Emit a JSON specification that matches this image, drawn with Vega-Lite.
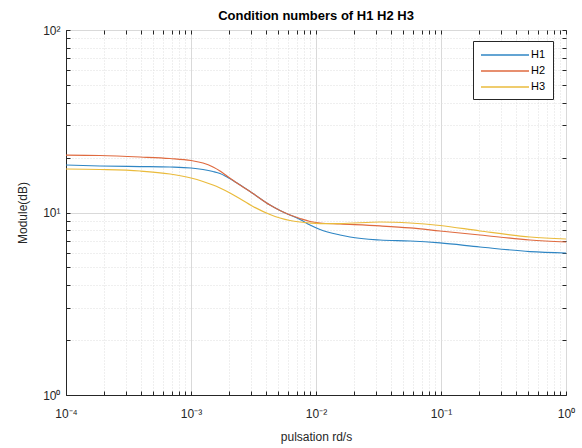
{
  "$schema": "https://vega.github.io/schema/vega-lite/v6.json",
  "autosize": {"type": "none"},
  "width": 500,
  "height": 365,
  "padding": {"left": 66, "top": 30, "right": 16, "bottom": 53},
  "background": "white",
  "title": {"text": "Condition numbers of H1 H2 H3", "font": "Liberation Sans", "fontSize": 13, "fontWeight": "bold", "color": "#000000", "anchor": "middle", "offset": 1},
  "config": {
    "view": {"stroke": "#262626", "strokeWidth": 1},
    "axis": {"labelFont": "Liberation Sans", "titleFont": "Liberation Sans", "labelColor": "#262626", "titleColor": "#262626", "titleFontWeight": "normal", "domainColor": "#262626", "tickColor": "#262626"}
  },
  "data": {"values": [
    {"x": 0.0001, "y": 18.21, "s": "H1"},
    {"x": 0.000187, "y": 17.98, "s": "H1"},
    {"x": 0.000391, "y": 17.86, "s": "H1"},
    {"x": 0.000679, "y": 17.75, "s": "H1"},
    {"x": 0.001, "y": 17.53, "s": "H1"},
    {"x": 0.001247, "y": 17.2, "s": "H1"},
    {"x": 0.0015, "y": 16.77, "s": "H1"},
    {"x": 0.001706, "y": 16.36, "s": "H1"},
    {"x": 0.001941, "y": 15.65, "s": "H1"},
    {"x": 0.002333, "y": 14.51, "s": "H1"},
    {"x": 0.003133, "y": 12.71, "s": "H1"},
    {"x": 0.004285, "y": 10.99, "s": "H1"},
    {"x": 0.005152, "y": 10.25, "s": "H1"},
    {"x": 0.006194, "y": 9.69, "s": "H1"},
    {"x": 0.007447, "y": 9.15, "s": "H1"},
    {"x": 0.008954, "y": 8.54, "s": "H1"},
    {"x": 0.010765, "y": 8.07, "s": "H1"},
    {"x": 0.01556, "y": 7.53, "s": "H1"},
    {"x": 0.0187, "y": 7.34, "s": "H1"},
    {"x": 0.0325, "y": 7.07, "s": "H1"},
    {"x": 0.0565, "y": 6.98, "s": "H1"},
    {"x": 0.0982, "y": 6.81, "s": "H1"},
    {"x": 0.205, "y": 6.47, "s": "H1"},
    {"x": 0.515, "y": 6.11, "s": "H1"},
    {"x": 1.0, "y": 6.0, "s": "H1"},
    {"x": 0.0001, "y": 20.65, "s": "H2"},
    {"x": 0.000187, "y": 20.53, "s": "H2"},
    {"x": 0.000391, "y": 20.14, "s": "H2"},
    {"x": 0.000679, "y": 19.76, "s": "H2"},
    {"x": 0.001, "y": 19.27, "s": "H2"},
    {"x": 0.001247, "y": 18.67, "s": "H2"},
    {"x": 0.0015, "y": 17.75, "s": "H2"},
    {"x": 0.001706, "y": 16.88, "s": "H2"},
    {"x": 0.001941, "y": 15.85, "s": "H2"},
    {"x": 0.002333, "y": 14.51, "s": "H2"},
    {"x": 0.003133, "y": 12.71, "s": "H2"},
    {"x": 0.004285, "y": 10.99, "s": "H2"},
    {"x": 0.005152, "y": 10.25, "s": "H2"},
    {"x": 0.006194, "y": 9.69, "s": "H2"},
    {"x": 0.007447, "y": 9.27, "s": "H2"},
    {"x": 0.008954, "y": 8.93, "s": "H2"},
    {"x": 0.010765, "y": 8.76, "s": "H2"},
    {"x": 0.01556, "y": 8.65, "s": "H2"},
    {"x": 0.0325, "y": 8.44, "s": "H2"},
    {"x": 0.0565, "y": 8.23, "s": "H2"},
    {"x": 0.0982, "y": 7.92, "s": "H2"},
    {"x": 0.205, "y": 7.53, "s": "H2"},
    {"x": 0.515, "y": 7.07, "s": "H2"},
    {"x": 1.0, "y": 6.89, "s": "H2"},
    {"x": 0.0001, "y": 17.31, "s": "H3"},
    {"x": 0.000187, "y": 17.2, "s": "H3"},
    {"x": 0.000391, "y": 16.88, "s": "H3"},
    {"x": 0.000679, "y": 16.26, "s": "H3"},
    {"x": 0.001, "y": 15.45, "s": "H3"},
    {"x": 0.001247, "y": 14.79, "s": "H3"},
    {"x": 0.0015, "y": 14.15, "s": "H3"},
    {"x": 0.001706, "y": 13.62, "s": "H3"},
    {"x": 0.002051, "y": 12.79, "s": "H3"},
    {"x": 0.002333, "y": 12.16, "s": "H3"},
    {"x": 0.003133, "y": 10.79, "s": "H3"},
    {"x": 0.004285, "y": 9.75, "s": "H3"},
    {"x": 0.005152, "y": 9.33, "s": "H3"},
    {"x": 0.006194, "y": 9.04, "s": "H3"},
    {"x": 0.007447, "y": 8.87, "s": "H3"},
    {"x": 0.008954, "y": 8.76, "s": "H3"},
    {"x": 0.010765, "y": 8.7, "s": "H3"},
    {"x": 0.01556, "y": 8.7, "s": "H3"},
    {"x": 0.0325, "y": 8.87, "s": "H3"},
    {"x": 0.0565, "y": 8.76, "s": "H3"},
    {"x": 0.0982, "y": 8.49, "s": "H3"},
    {"x": 0.205, "y": 7.92, "s": "H3"},
    {"x": 0.515, "y": 7.34, "s": "H3"},
    {"x": 1.0, "y": 7.16, "s": "H3"}
  ]},
  "layer": [
    {
      "mark": {"type": "line", "interpolate": "monotone", "strokeWidth": 1.2, "clip": true},
      "encoding": {
        "x": {
          "field": "x", "type": "quantitative",
          "scale": {"type": "log", "domain": [0.0001, 1], "nice": false},
          "axis": {
            "orient": "bottom",
            "title": "pulsation rd/s", "titleFontSize": 12, "titlePadding": 12,
            "labelFontSize": 12, "labelFlush": false, "labelOverlap": false,
            "values": [0.0001,0.0002,0.0003,0.0004,0.0005,0.0006,0.0007,0.0008,0.0009,0.001,0.002,0.003,0.004,0.005,0.006,0.007,0.008,0.009,0.01,0.02,0.03,0.04,0.05,0.06,0.07,0.08,0.09,0.1,0.2,0.3,0.4,0.5,0.6,0.7,0.8,0.9,1],
            "labelExpr": "abs(log(datum.value)/LN10 - round(log(datum.value)/LN10)) > 0.001 ? '' : '10' + ['⁻⁴','⁻³','⁻²','⁻¹','⁰','¹','²'][round(log(datum.value)/LN10)+4]",
            "tickSize": -4, "labelPadding": 17,
            "grid": true,
            "gridColor": {"condition": {"test": "abs(log(datum.value)/LN10 - round(log(datum.value)/LN10)) < 0.001", "value": "#d9d9d9"}, "value": "#dedede"},
            "gridDash": {"condition": {"test": "abs(log(datum.value)/LN10 - round(log(datum.value)/LN10)) < 0.001", "value": []}, "value": [1, 2]}
          }
        },
        "y": {
          "field": "y", "type": "quantitative",
          "scale": {"type": "log", "domain": [1, 100], "nice": false},
          "axis": {
            "orient": "left",
            "title": "Module(dB)", "titleFontSize": 12, "titlePadding": 13,
            "labelFontSize": 12, "labelOverlap": false, "labelFlush": false,
            "values": [1,2,3,4,5,6,7,8,9,10,20,30,40,50,60,70,80,90,100],
            "labelExpr": "abs(log(datum.value)/LN10 - round(log(datum.value)/LN10)) > 0.001 ? '' : '10' + ['⁻⁴','⁻³','⁻²','⁻¹','⁰','¹','²'][round(log(datum.value)/LN10)+4]",
            "tickSize": -4, "labelPadding": 10,
            "grid": true,
            "gridColor": {"condition": {"test": "abs(log(datum.value)/LN10 - round(log(datum.value)/LN10)) < 0.001", "value": "#d9d9d9"}, "value": "#dedede"},
            "gridDash": {"condition": {"test": "abs(log(datum.value)/LN10 - round(log(datum.value)/LN10)) < 0.001", "value": []}, "value": [1, 2]}
          }
        },
        "color": {
          "field": "s", "type": "nominal",
          "scale": {"domain": ["H1", "H2", "H3"], "range": ["#2f86c4", "#df6a3f", "#eabb3c"]},
          "legend": {
            "title": null, "orient": "none", "legendX": 407, "legendY": 11,
            "symbolType": "M-1,0H7", "symbolSize": 144, "symbolStrokeWidth": 1.3,
            "labelFont": "Liberation Sans", "labelFontSize": 11, "labelColor": "#000000", "labelOffset": 37,
            "strokeColor": "#262626", "fillColor": "white", "padding": 7, "rowPadding": 4
          }
        }
      }
    },
    {
      "mark": {"type": "line", "opacity": 0, "clip": true},
      "encoding": {
        "x": {
          "field": "x", "type": "quantitative",
          "axis": {
            "orient": "top", "title": null, "labels": false, "grid": false, "domain": false,
            "values": [0.0001,0.0002,0.0003,0.0004,0.0005,0.0006,0.0007,0.0008,0.0009,0.001,0.002,0.003,0.004,0.005,0.006,0.007,0.008,0.009,0.01,0.02,0.03,0.04,0.05,0.06,0.07,0.08,0.09,0.1,0.2,0.3,0.4,0.5,0.6,0.7,0.8,0.9,1],
            "tickSize": -4
          }
        },
        "y": {
          "field": "y", "type": "quantitative",
          "axis": {
            "orient": "right", "title": null, "labels": false, "grid": false, "domain": false,
            "values": [1,2,3,4,5,6,7,8,9,10,20,30,40,50,60,70,80,90,100],
            "tickSize": -4
          }
        },
        "detail": {"field": "s", "type": "nominal"}
      }
    }
  ],
  "resolve": {"axis": {"x": "independent", "y": "independent"}}
}
